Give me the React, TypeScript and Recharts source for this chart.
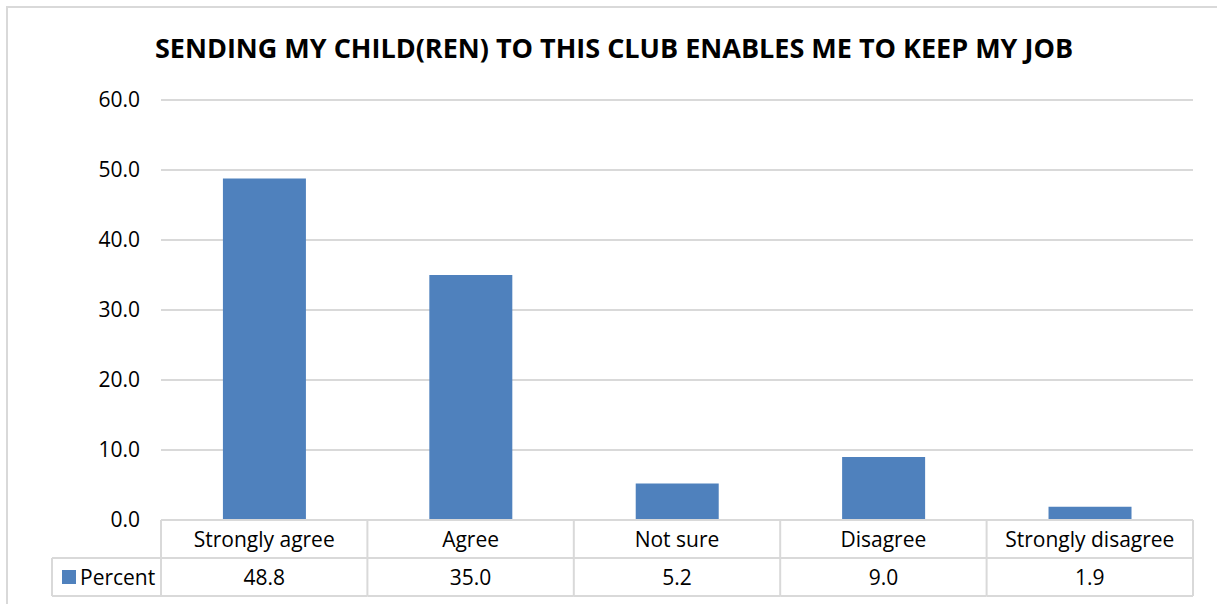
import React from "react";
import { BarChart, Bar, XAxis, YAxis, CartesianGrid } from "recharts";

const categories = ["Strongly agree", "Agree", "Not sure", "Disagree", "Strongly disagree"];
const percent = [48.8, 35.0, 5.2, 9.0, 1.9];
const yTicks = [0, 10, 20, 30, 40, 50, 60];
const seriesName = "Percent";

const data = categories.map((c, i) => ({ name: c, value: percent[i] }));

const W = 1217;
const H = 604;
const LEFT = 161;
const RIGHT = 24;
const TOP = 100;
const BOTTOM = 84;
const BAND = (W - LEFT - RIGHT) / categories.length;
const ROW = 38;
const FONT = "'Open Sans', 'Noto Sans', sans-serif";
const FS = 21;
const LINE = "#d9d9d9";
const BLUE = "#4f81bd";

// draws one column of the data table under the plot
function TableTick(props: any) {
  const { x, y, payload, index } = props;
  const l = x - BAND / 2;
  const r = x + BAND / 2;
  const last = index === categories.length - 1;
  return (
    <g>
      <line x1={l} x2={l} y1={y} y2={y + ROW * 2} stroke={LINE} strokeWidth={2} />
      {last && <line x1={r} x2={r} y1={y} y2={y + ROW * 2} stroke={LINE} strokeWidth={2} />}
      <line x1={l} x2={r} y1={y + ROW} y2={y + ROW} stroke={LINE} strokeWidth={2} />
      <line x1={l} x2={r} y1={y + ROW * 2} y2={y + ROW * 2} stroke={LINE} strokeWidth={2} />
      <text x={x} y={y + 27} textAnchor="middle" fontSize={FS} fontFamily={FONT} fill="#000">
        {payload.value}
      </text>
      <text x={x} y={y + ROW + 27} textAnchor="middle" fontSize={FS} fontFamily={FONT} fill="#000">
        {percent[index].toFixed(1)}
      </text>
      {index === 0 && (
        <g>
          <line x1={52} x2={l} y1={y + ROW} y2={y + ROW} stroke={LINE} strokeWidth={2} />
          <line x1={52} x2={l} y1={y + ROW * 2} y2={y + ROW * 2} stroke={LINE} strokeWidth={2} />
          <line x1={52} x2={52} y1={y + ROW} y2={y + ROW * 2} stroke={LINE} strokeWidth={2} />
          <rect x={62} y={y + ROW + 12} width={14} height={14} fill={BLUE} />
          <text x={80} y={y + ROW + 27} fontSize={FS} fontFamily={FONT} fill="#000">
            {seriesName}
          </text>
        </g>
      )}
    </g>
  );
}

export default function App() {
  return (
    <div style={{ position: "absolute", left: 0, top: 0, width: W, height: H, overflow: "hidden", background: "#fff" }}>
      <div
        style={{
          position: "absolute",
          left: 6,
          top: 6,
          width: W + 20,
          height: H + 20,
          border: `2px solid ${LINE}`,
        }}
      />
      <div
        style={{
          position: "absolute",
          left: 0,
          top: 28,
          width: 1228,
          textAlign: "center",
          fontFamily: FONT,
          fontWeight: 700,
          fontSize: 27,
          lineHeight: "40px",
          color: "#000",
        }}
      >
        SENDING MY CHILD(REN) TO THIS CLUB ENABLES ME TO KEEP MY JOB
      </div>
      <div style={{ position: "absolute", left: 0, top: 0 }}>
        <BarChart
          width={W}
          height={H}
          data={data}
          margin={{ top: TOP, right: RIGHT, left: LEFT - 80, bottom: 0 }}
          barCategoryGap="30%"
        >
          <CartesianGrid vertical={false} stroke={LINE} strokeWidth={2} />
          <YAxis
            width={80}
            domain={[0, 60]}
            ticks={yTicks}
            tickFormatter={(v: number) => v.toFixed(1)}
            axisLine={false}
            tickLine={false}
            tickSize={0}
            tickMargin={21}
            tick={{ fontSize: FS, fontFamily: FONT, fill: "#000" }}
          />
          <XAxis
            dataKey="name"
            height={BOTTOM}
            axisLine={{ stroke: LINE, strokeWidth: 2 }}
            tickLine={false}
            tickSize={0}
            tickMargin={0}
            interval={0}
            tick={<TableTick />}
          />
          <Bar dataKey="value" fill={BLUE} isAnimationActive={false} />
        </BarChart>
      </div>
    </div>
  );
}
